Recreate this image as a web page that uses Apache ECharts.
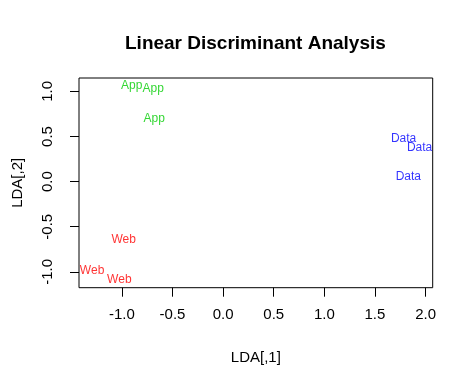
<!DOCTYPE html>
<html><head><meta charset="utf-8">
<script src="https://cdn.jsdelivr.net/npm/echarts@6/dist/echarts.min.js"></script>
<style>html,body{margin:0;padding:0;background:#fff}#c{width:474px;height:386px}</style>
</head><body><div id="c"></div>
<script>
const groups = ["App", "Data", "Web"];
const groupColors = ["#00CD00", "#0000FF", "#FF0000"];
const appX = [-0.903, -0.690, -0.680];
const appY = [1.063, 1.027, 0.696];
const dataX = [1.783, 1.941, 1.830];
const dataY = [0.475, 0.379, 0.058];
const webX = [-0.982, -1.294, -1.025];
const webY = [-0.641, -0.990, -1.090];
const xTicks = [-1.0, -0.5, 0.0, 0.5, 1.0, 1.5, 2.0];
const yTicks = [-1.0, -0.5, 0.0, 0.5, 1.0];

const allX = [appX, dataX, webX];
const allY = [appY, dataY, webY];
const FONT = "'Liberation Sans', Arial, sans-serif";

function expand(arrs) {
  const v = arrs.flat();
  const lo = Math.min(...v), hi = Math.max(...v);
  const r = hi - lo;
  return [lo - 0.04 * r, hi + 0.04 * r];
}
const [xmin, xmax] = expand(allX);
const [ymin, ymax] = expand(allY);

const series = groups.map((g, i) => ({
  type: 'scatter',
  name: g,
  symbolSize: 2,
  itemStyle: { color: 'rgba(0,0,0,0)' },
  data: allX[i].map((x, k) => [x, allY[i][k]]),
  label: {
    show: true, position: 'inside', formatter: g,
    color: groupColors[i], fontSize: 12, fontFamily: FONT
  },
  labelLayout: { hideOverlap: false },
  silent: true, animation: false
}));

const chart = echarts.init(document.getElementById('c'), null, { renderer: 'canvas' });
chart.setOption({
  animation: false,
  backgroundColor: '#fff',
  title: {
    text: 'Linear Discriminant Analysis', left: 120, top: 29,
    textStyle: { fontSize: 19, fontWeight: 'bold', color: '#000', fontFamily: FONT }
  },
  grid: { left: 79, right: 41.3, top: 78, bottom: 98.3, show: true, borderColor: '#000', borderWidth: 1, backgroundColor: 'transparent' },
  xAxis: {
    type: 'value', min: xmin, max: xmax,
    name: 'LDA[,1]', nameLocation: 'middle', nameGap: 63,
    nameTextStyle: { fontSize: 15, color: '#000', fontFamily: FONT },
    axisLine: { show: false, onZero: false },
    splitLine: { show: false },
    axisTick: { show: true, length: 9, customValues: xTicks, lineStyle: { color: '#000' } },
    axisLabel: { customValues: xTicks, margin: 20, fontSize: 15, color: '#000', fontFamily: FONT,
      formatter: v => v.toFixed(1) }
  },
  yAxis: {
    type: 'value', min: ymin, max: ymax,
    name: 'LDA[,2]', nameLocation: 'middle', nameGap: 54, nameRotate: 90,
    nameTextStyle: { fontSize: 15, color: '#000', fontFamily: FONT },
    axisLine: { show: false, onZero: false },
    splitLine: { show: false },
    axisTick: { show: true, length: 9, customValues: yTicks, lineStyle: { color: '#000' } },
    axisLabel: { customValues: yTicks, margin: 24, rotate: 90, fontSize: 15, color: '#000', fontFamily: FONT,
      formatter: v => v.toFixed(1) }
  },
  series
});
</script></body></html>
